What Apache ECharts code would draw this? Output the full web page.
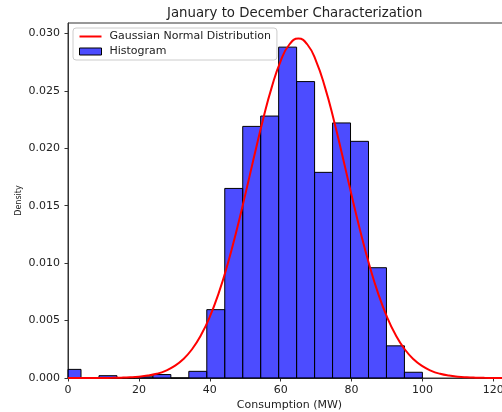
<!DOCTYPE html>
<html>
<head>
<meta charset="utf-8">
<script src="https://cdn.jsdelivr.net/npm/echarts@6/dist/echarts.min.js"></script>
<style>html,body{margin:0;padding:0;background:#fff}#c{width:502px;height:412px}</style>
</head>
<body>
<div id="c"></div>
<script>
// Histogram bins (edges in MW) and densities
const binEdges = [-1.40, 3.67, 8.74, 13.81, 18.88, 23.95, 29.02, 34.09, 39.16, 44.23, 49.30,
                  54.37, 59.44, 64.51, 69.58, 74.65, 79.72, 84.79, 89.86, 94.93, 100.00];
const densities = [0.00075, 0, 0.0002, 0, 0.0001, 0.0003, 0, 0.00058, 0.00595, 0.0165,
                   0.0219, 0.0228, 0.0288, 0.0258, 0.0179, 0.0222, 0.0206, 0.0096, 0.0028, 0.0005];
// Gaussian curve samples
const curveX = [0, 2.5, 5, 7.5, 10, 12.5, 15, 17.5, 20, 22.5, 25, 27.5, 30, 32.5, 35, 37.5, 40, 42.5,
                45, 47.5, 50, 52.5, 55, 57.5, 60, 62.5, 65, 67.5, 70, 72.5, 75, 77.5, 80, 82.5, 85,
                87.5, 90, 92.5, 95, 97.5, 100, 102.5, 105, 107.5, 110, 112.5, 115, 117.5, 120, 122.5, 125];
const curveY = [0.0000003, 0.0000007, 0.0000015, 0.0000034, 0.0000073, 0.0000154, 0.000031, 0.000061,
                0.000114, 0.000208, 0.000367, 0.000624, 0.001026, 0.001629, 0.002502, 0.003712, 0.005319,
                0.00737, 0.009862, 0.012754, 0.01594, 0.01925, 0.02246, 0.02532, 0.02759, 0.02905, 0.02955,
                0.02905, 0.02759, 0.02532, 0.02246, 0.01925, 0.01594, 0.012754, 0.009862, 0.00737, 0.005319,
                0.003712, 0.002502, 0.001629, 0.001026, 0.000624, 0.000367, 0.000208, 0.000114, 0.000061,
                0.000031, 0.0000154, 0.0000073, 0.0000034, 0.0000015];
const xTicks = [0, 20, 40, 60, 80, 100, 120];
const yTicks = [0, 0.005, 0.010, 0.015, 0.020, 0.025, 0.030];

const histColor = 'rgba(0,0,255,0.7)';
const histData = densities.map((d, i) => [binEdges[i], binEdges[i + 1], d]);
const curveData = curveX.map((x, i) => [x, curveY[i]]);
const font = 'DejaVu Sans';
const txt = '#222';

const chart = echarts.init(document.getElementById('c'), null, {renderer: 'canvas'});
chart.setOption({
  animation: false,
  backgroundColor: '#fff',
  title: {
    text: 'January to December Characterization',
    left: 162, top: 2,
    textStyle: {fontFamily: font, fontSize: 13.3, fontWeight: 'normal', color: txt}
  },
  legend: {
    orient: 'vertical',
    left: 73, top: 28,
    padding: [3, 6, 3, 6],
    itemGap: 4,
    itemWidth: 22, itemHeight: 7,
    backgroundColor: 'rgba(255,255,255,0.8)',
    borderColor: '#cccccc', borderWidth: 1, borderRadius: 3,
    textStyle: {fontFamily: font, fontSize: 11, color: txt, padding: [0, 0, 0, 3]},
    data: [
      {name: 'Gaussian Normal Distribution', icon: 'path://M0,0L22,0L22,2L0,2Z', itemStyle: {color: 'red'}},
      {name: 'Histogram', icon: 'rect', itemStyle: {color: histColor, borderColor: '#000', borderWidth: 1}}
    ]
  },
  grid: {left: 68, top: 23, right: -9, bottom: 34, show: true, borderColor: '#333', borderWidth: 1,
         outerBoundsMode: 'none', containLabel: false},
  xAxis: {
    type: 'value', min: 0, max: 125,
    name: 'Consumption (MW)', nameLocation: 'middle', nameGap: 22, nameMoveOverlap: false,
    nameTextStyle: {fontFamily: font, fontSize: 11, color: txt},
    axisLine: {show: true, onZero: false, lineStyle: {color: '#333'}},
    axisTick: {show: true, inside: false, length: 3.5, lineStyle: {color: '#333'}, customValues: xTicks},
    axisLabel: {fontFamily: font, fontSize: 11, color: txt, margin: 7, customValues: xTicks},
    splitLine: {show: false}
  },
  yAxis: {
    type: 'value', min: 0, max: 0.0309,
    name: 'Density', nameLocation: 'middle', nameGap: 45, nameRotate: 90, nameMoveOverlap: false,
    nameTextStyle: {fontFamily: font, fontSize: 8, color: txt},
    axisLine: {show: true, lineStyle: {color: '#333'}},
    axisTick: {show: true, inside: false, length: 3.5, lineStyle: {color: '#333'}, customValues: yTicks},
    axisLabel: {fontFamily: font, fontSize: 11, color: txt, margin: 8, customValues: yTicks,
                formatter: v => v.toFixed(3)},
    splitLine: {show: false}
  },
  series: [
    {
      name: 'Histogram',
      type: 'custom',
      data: histData,
      encode: {x: [0, 1], y: 2},
      renderItem: (params, api) => {
        const p0 = api.coord([api.value(0), api.value(2)]);
        const p1 = api.coord([api.value(1), 0]);
        const rect = echarts.graphic.clipRectByRect(
          {x: p0[0], y: p0[1], width: p1[0] - p0[0], height: p1[1] - p0[1]},
          {x: params.coordSys.x, y: params.coordSys.y - 2, width: params.coordSys.width, height: params.coordSys.height + 4}
        );
        if (!rect) return null;
        return {type: 'rect', shape: rect, style: {fill: histColor, stroke: '#000', lineWidth: 1}};
      },
      z: 2
    },
    {
      name: 'Gaussian Normal Distribution',
      type: 'line',
      data: curveData,
      smooth: true,
      symbol: 'none',
      lineStyle: {color: 'red', width: 2},
      itemStyle: {color: 'red'},
      z: 3
    }
  ]
});
</script>
</body>
</html>
